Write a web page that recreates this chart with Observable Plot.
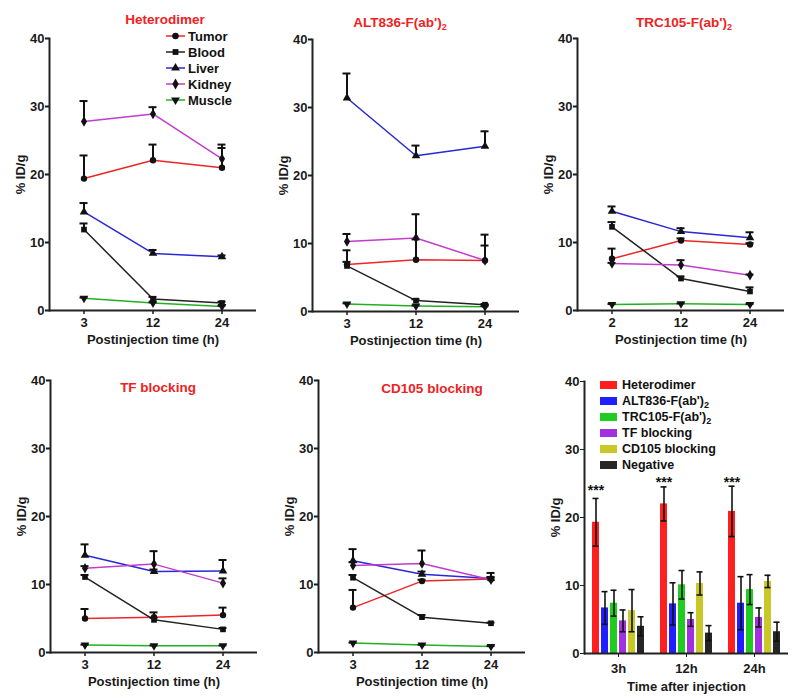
<!DOCTYPE html>
<html>
<head>
<meta charset="utf-8">
<script src="https://cdn.jsdelivr.net/npm/d3@7"></script>
<script src="https://cdn.jsdelivr.net/npm/@observablehq/plot@0.6"></script>
<style>
  html, body { margin: 0; padding: 0; background: #fff; }
  #root { position: relative; width: 800px; height: 698px; overflow: hidden; font-family: "Liberation Sans", Arial, Helvetica, sans-serif; }
  .panel { position: absolute; }
  .ttl { position: absolute; transform: translate(-50%, -50%); color: #ee2222; font-weight: bold; font-size: 13.5px; white-space: nowrap; }
  .ttl sub { font-size: 9px; vertical-align: -3px; line-height: 0; }
  .leg { position: absolute; font-weight: bold; font-size: 13px; color: #111; }
</style>
</head>
<body>
<div id="root"></div>
<script>
// ---------- data ----------
const organs = ["Tumor", "Blood", "Liver", "Kidney", "Muscle"];
const organColors = ["#ec2626", "#222222", "#2828d4", "#c23ccf", "#22b022"];
const organSymbols = ["circle", "square", "triangle", "diamond", "triangle"];

const times = ["3", "12", "24"];
const timesTRC = ["2", "12", "24"];

// rows follow organs order: Tumor, Blood, Liver, Kidney, Muscle
const heteroMean = [[19.4, 22.1, 21.0], [11.9, 1.7, 1.1], [14.5, 8.4, 7.9], [27.8, 28.9, 22.3], [1.8, 1.1, 0.6]];
const heteroSD   = [[3.4, 2.3, 2.9], [0.9, 0.3, 0.2], [1.3, 0.5, 0.2], [3.0, 1.0, 2.1], [0.1, 0.1, 0.1]];

const altMean = [[6.9, 7.6, 7.5], [6.7, 1.6, 1.0], [31.4, 22.9, 24.3], [10.3, 10.8, 7.5], [1.1, 0.8, 0.7]];
const altSD   = [[2.1, 3.0, 2.2], [0.6, 0.2, 0.1], [3.6, 1.5, 2.2], [1.1, 3.5, 3.8], [0.1, 0.1, 0.1]];

const trcMean = [[7.6, 10.3, 9.7], [12.3, 4.7, 2.8], [14.6, 11.6, 10.7], [6.9, 6.7, 5.2], [0.9, 1.0, 0.9]];
const trcSD   = [[1.5, 0.3, 0.2], [0.7, 0.3, 0.6], [0.7, 0.5, 0.8], [0.1, 0.7, 0.1], [0.05, 0.05, 0.05]];

const tfMean = [[5.0, 5.2, 5.5], [11.1, 4.8, 3.4], [14.3, 11.9, 12.0], [12.4, 13.0, 10.2], [1.1, 1.0, 1.0]];
const tfSD   = [[1.4, 0.7, 1.1], [0.3, 0.3, 0.2], [1.6, 0.3, 1.6], [0.3, 1.9, 0.7], [0.05, 0.05, 0.05]];

const cdMean = [[6.6, 10.5, 10.8], [11.0, 5.2, 4.3], [13.5, 11.5, 10.9], [12.8, 13.1, 10.7], [1.4, 1.1, 0.9]];
const cdSD   = [[2.6, 0.2, 0.3], [0.4, 0.3, 0.1], [1.7, 0.4, 0.8], [0.5, 1.9, 0.3], [0.05, 0.05, 0.05]];

// bar chart: tumor uptake
const groups = ["3h", "12h", "24h"];
const probes = ["Heterodimer", "ALT836-F(ab')2", "TRC105-F(ab')2", "TF blocking", "CD105 blocking", "Negative"];
const probeLabels = ["Heterodimer", "ALT836-F(ab')<sub>2</sub>", "TRC105-F(ab')<sub>2</sub>", "TF blocking", "CD105 blocking", "Negative"];
const probeColors = ["#ff1f1f", "#1f1fff", "#1fcc1f", "#a030e0", "#c8c828", "#262626"];
const barMean = [[19.3, 22.0, 20.9], [6.7, 7.3, 7.4], [7.4, 10.1, 9.4], [4.8, 5.0, 5.3], [6.3, 10.3, 10.6], [4.0, 3.0, 3.2]];
const barSD   = [[3.5, 2.5, 3.7], [2.4, 3.1, 3.9], [1.9, 2.1, 2.2], [1.6, 1.0, 1.4], [3.1, 1.7, 0.9], [1.4, 1.1, 1.4]];
const starLevel = [24.7, 25.9, 25.9];

const yTicks = [0, 10, 20, 30, 40];

// ---------- helpers ----------
const FONT = '"Liberation Sans", Arial, Helvetica, sans-serif';
const root = document.getElementById("root");

function place(node, left, top) {
  const d = document.createElement("div");
  d.className = "panel";
  d.style.left = left + "px";
  d.style.top = top + "px";
  d.appendChild(node);
  root.appendChild(d);
}
function title(html, cx, cy) {
  const d = document.createElement("div");
  d.className = "ttl";
  d.style.left = cx + "px";
  d.style.top = cy + "px";
  d.innerHTML = html;
  root.appendChild(d);
}

function linePanel(xs, mean, sd, marginTop, height) {
  const rows = organs.flatMap((o, i) => xs.map((t, j) => ({organ: o, time: t, v: mean[i][j], sd: sd[i][j]})));
  return Plot.plot({
    width: 265, height,
    marginLeft: 49, marginRight: 9, marginTop, marginBottom: height - marginTop - 272,
    style: {fontFamily: FONT, fontSize: "13px", fontWeight: "bold", color: "#1a1a1a", background: "none", overflow: "visible"},
    x: {type: "band", domain: xs, padding: 0},
    y: {domain: [0, 40]},
    color: {domain: organs, range: organColors},
    symbol: {domain: organs, range: organSymbols},
    marks: [
      Plot.axisY({ticks: yTicks, tickSize: 4, tickPadding: 1, label: "% ID/g", labelAnchor: "center", labelOffset: 34, labelArrow: "none", strokeWidth: 2}),
      Plot.axisX({tickSize: 4, tickPadding: 3, label: "Postinjection time (h)", labelAnchor: "center", labelOffset: 33, strokeWidth: 1.5}),
      Plot.line(rows, {x: "time", y: "v", z: "organ", stroke: "organ", strokeWidth: 1.5}),
      Plot.ruleX(rows, {x: "time", y1: "v", y2: d => d.v + d.sd, stroke: "#111", strokeWidth: 2}),
      Plot.tickY(rows, {x: "time", y: d => d.v + d.sd, stroke: "#111", strokeWidth: 2, insetLeft: 30.5, insetRight: 30.5}),
      Plot.dot(rows, {x: "time", y: "v", symbol: "organ", fill: "#111", r: 3.2, rotate: d => d.organ === "Muscle" ? 180 : 0}),
      Plot.frame({anchor: "left", stroke: "#222", strokeWidth: 2}),
      Plot.ruleY([0], {stroke: "#222", strokeWidth: 2})
    ]
  });
}

function barPanel() {
  const rows = groups.flatMap((g, i) => probes.map((p, j) => ({group: g, probe: p, v: barMean[j][i], sd: barSD[j][i]})));
  const stars = groups.map((g, i) => ({group: g, level: starLevel[i]}));
  return Plot.plot({
    width: 265, height: 357,
    marginLeft: 49, marginRight: 11, marginTop: 40, marginBottom: 45,
    style: {fontFamily: FONT, fontSize: "13px", fontWeight: "bold", color: "#1a1a1a", background: "none", overflow: "visible"},
    fx: {domain: groups, padding: 0},
    x: {domain: probes, paddingInner: 0.27, paddingOuter: 0.72, axis: null},
    y: {domain: [0, 40]},
    color: {domain: probes, range: probeColors},
    marks: [
      Plot.axisY({ticks: yTicks, tickSize: 4, tickPadding: 1, label: "% ID/g", labelAnchor: "center", labelOffset: 34, labelArrow: "none"}),
      Plot.axisFx({anchor: "bottom", tickSize: 4, tickPadding: 6, label: "Time after injection", labelAnchor: "center", labelOffset: 37}),
      Plot.barY(rows, {fx: "group", x: "probe", y: "v", fill: "probe"}),
      Plot.ruleX(rows, {fx: "group", x: "probe", y1: d => d.v - d.sd, y2: d => d.v + d.sd, stroke: "#111", strokeWidth: 1.6}),
      Plot.tickY(rows, {fx: "group", x: "probe", y: d => d.v + d.sd, stroke: "#111", strokeWidth: 1.6, insetLeft: 0.5, insetRight: 0.5}),
      Plot.tickY(rows, {fx: "group", x: "probe", y: d => d.v - d.sd, stroke: "#111", strokeWidth: 1.6, insetLeft: 0.5, insetRight: 0.5}),
      Plot.text(stars, {fx: "group", x: () => probes[0], y: "level", text: () => "***", fontSize: 14, dy: 5, fill: "#111"}),
      Plot.ruleY([0], {stroke: "#222", strokeWidth: 2}),
      Plot.frame({anchor: "left", facetAnchor: "left", stroke: "#222", strokeWidth: 2})
    ]
  });
}

// ---------- panels ----------
place(linePanel(times, heteroMean, heteroSD, 38, 345), 0, 0);
place(linePanel(times, altMean, altSD, 39, 345), 263, 0);
place(linePanel(timesTRC, trcMean, trcSD, 38, 345), 528, 0);
place(linePanel(times, tfMean, tfSD, 39, 357), 1, 341);
place(linePanel(times, cdMean, cdSD, 39, 357), 269, 341);
place(barPanel(), 534, 341);

title("Heterodimer", 165, 19);
title("ALT836-F(ab')<sub>2</sub>", 400, 22);
title("TRC105-F(ab')<sub>2</sub>", 684, 22);
title("TF blocking", 158, 387);
title("CD105 blocking", 432, 388);

// ---------- legends ----------
(function organLegend() {
  const svg = d3.create("svg").attr("width", 110).attr("height", 90).style("overflow", "visible");
  const symTypes = {circle: d3.symbolCircle, square: d3.symbolSquare, triangle: d3.symbolTriangle, diamond: d3.symbolDiamond};
  organs.forEach((o, i) => {
    const g = svg.append("g").attr("transform", `translate(0,${8 + i * 16})`);
    g.append("line").attr("x1", 0).attr("x2", 19).attr("stroke", organColors[i]).attr("stroke-width", 1.5);
    g.append("path").attr("d", d3.symbol(symTypes[organSymbols[i]], 34)())
      .attr("transform", `translate(9.5,0)${o === "Muscle" ? " rotate(180)" : ""}`).attr("fill", "#111");
    g.append("text").attr("x", 22).attr("dy", "0.35em").text(o)
      .attr("font-family", FONT).attr("font-size", 13).attr("font-weight", "bold").attr("fill", "#111");
  });
  place(svg.node(), 166, 28);
})();

(function probeLegend() {
  const d = document.createElement("div");
  d.className = "leg";
  d.style.left = "600px";
  d.style.top = "377px";
  probes.forEach((p, i) => {
    const row = document.createElement("div");
    row.style.cssText = "height:16px;display:flex;align-items:center;font-size:12.5px;white-space:nowrap;";
    row.innerHTML = `<span style="display:inline-block;width:17px;height:8px;background:${probeColors[i]};margin-right:5px"></span><span>${probeLabels[i].replace("<sub>", "<sub style='font-size:9px;vertical-align:-3px;line-height:0'>")}</span>`;
    d.appendChild(row);
  });
  root.appendChild(d);
})();
</script>
</body>
</html>
